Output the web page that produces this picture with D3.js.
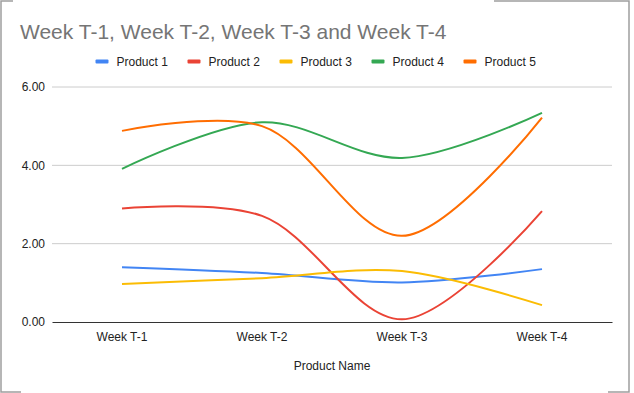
<!DOCTYPE html>
<html>
<head>
<meta charset="utf-8">
<script src="https://cdn.jsdelivr.net/npm/d3@7/dist/d3.min.js"></script>
<style>
  body { margin: 0; background: #fff; }
  svg { display: block; font-family: "Liberation Sans", Arial, sans-serif; }
</style>
</head>
<body>
<div id="chart"></div>
<script>
const WEEKS = ["Week T-1", "Week T-2", "Week T-3", "Week T-4"];
const SERIES_NAMES = ["Product 1", "Product 2", "Product 3", "Product 4", "Product 5"];
const SERIES_COLORS = ["#4285f4", "#ea4335", "#fbbc04", "#34a853", "#ff6d01"];
const PRODUCT_1 = [1.40, 1.25, 1.01, 1.35];
const PRODUCT_2 = [2.90, 2.71, 0.07, 2.83];
const PRODUCT_3 = [0.97, 1.12, 1.30, 0.43];
const PRODUCT_4 = [3.91, 5.10, 4.19, 5.34];
const PRODUCT_5 = [4.88, 5.00, 2.20, 5.22];
const Y_TICKS = [0, 2, 4, 6];

const SERIES = [PRODUCT_1, PRODUCT_2, PRODUCT_3, PRODUCT_4, PRODUCT_5];

const WIDTH = 634, HEIGHT = 393;
const MARGIN = {top: 87, right: 22, bottom: 71, left: 52};

const svg = d3.select("#chart").append("svg")
  .attr("width", WIDTH)
  .attr("height", HEIGHT);

// frame (partial, like the screenshot)
const frame = svg.append("g").attr("stroke", "#9e9e9e").attr("stroke-width", 1.5).attr("fill", "none");
frame.append("path").attr("d", "M13,1H1V392H21");
frame.append("path").attr("d", "M494,1H629V392H608");

const x = d3.scaleBand()
  .domain(WEEKS)
  .range([MARGIN.left, WIDTH - MARGIN.right]);

const y = d3.scaleLinear()
  .domain([0, 6])
  .range([HEIGHT - MARGIN.bottom, MARGIN.top]);

// gridlines
svg.append("g")
  .selectAll("line")
  .data(Y_TICKS.filter(d => d > 0))
  .join("line")
  .attr("x1", MARGIN.left)
  .attr("x2", WIDTH - MARGIN.right)
  .attr("y1", d => y(d))
  .attr("y2", d => y(d))
  .attr("stroke", "#cccccc")
  .attr("stroke-width", 1);

// y axis labels
const yAxis = d3.axisLeft(y)
  .tickValues(Y_TICKS)
  .tickFormat(d3.format(".2f"))
  .tickSize(0)
  .tickPadding(7);
svg.append("g")
  .attr("transform", `translate(${MARGIN.left},0)`)
  .call(yAxis)
  .call(g => g.select(".domain").remove())
  .call(g => g.selectAll("text")
    .attr("font-size", 12)
    .attr("font-family", "Liberation Sans, Arial, sans-serif")
    .attr("fill", "#222"));

// x axis
const xAxis = d3.axisBottom(x).tickSize(0).tickPadding(10);
svg.append("g")
  .attr("transform", `translate(0,${y(0)})`)
  .call(xAxis)
  .call(g => g.select(".domain").attr("stroke", "#333").attr("stroke-width", 1.2))
  .call(g => g.selectAll("text")
    .attr("font-size", 12)
    .attr("font-family", "Liberation Sans, Arial, sans-serif")
    .attr("fill", "#222"));

// lines
const line = d3.line()
  .x((d, i) => x(WEEKS[i]) + x.bandwidth() / 2)
  .y(d => y(d))
  .curve(d3.curveCatmullRom);

svg.append("g")
  .selectAll("path")
  .data(SERIES)
  .join("path")
  .attr("d", d => line(d))
  .attr("fill", "none")
  .attr("stroke", (d, i) => SERIES_COLORS[i])
  .attr("stroke-width", 2);

// title
svg.append("text")
  .attr("x", 20)
  .attr("y", 39)
  .attr("font-size", 21)
  .attr("fill", "#757575")
  .text("Week T-1, Week T-2, Week T-3 and Week T-4");

// legend
const legend = svg.append("g")
  .selectAll("g")
  .data(SERIES_NAMES)
  .join("g")
  .attr("transform", (d, i) => `translate(${95.5 + i * 92},0)`);
legend.append("rect")
  .attr("x", 0)
  .attr("y", 59.5)
  .attr("width", 13)
  .attr("height", 4)
  .attr("rx", 1)
  .attr("fill", (d, i) => SERIES_COLORS[i]);
legend.append("text")
  .attr("x", 21)
  .attr("y", 65.5)
  .attr("font-size", 12)
  .attr("fill", "#222")
  .text(d => d);

// x axis title
svg.append("text")
  .attr("x", (MARGIN.left + WIDTH - MARGIN.right) / 2)
  .attr("y", 370)
  .attr("text-anchor", "middle")
  .attr("font-size", 12)
  .attr("fill", "#222")
  .text("Product Name");
</script>
</body>
</html>
